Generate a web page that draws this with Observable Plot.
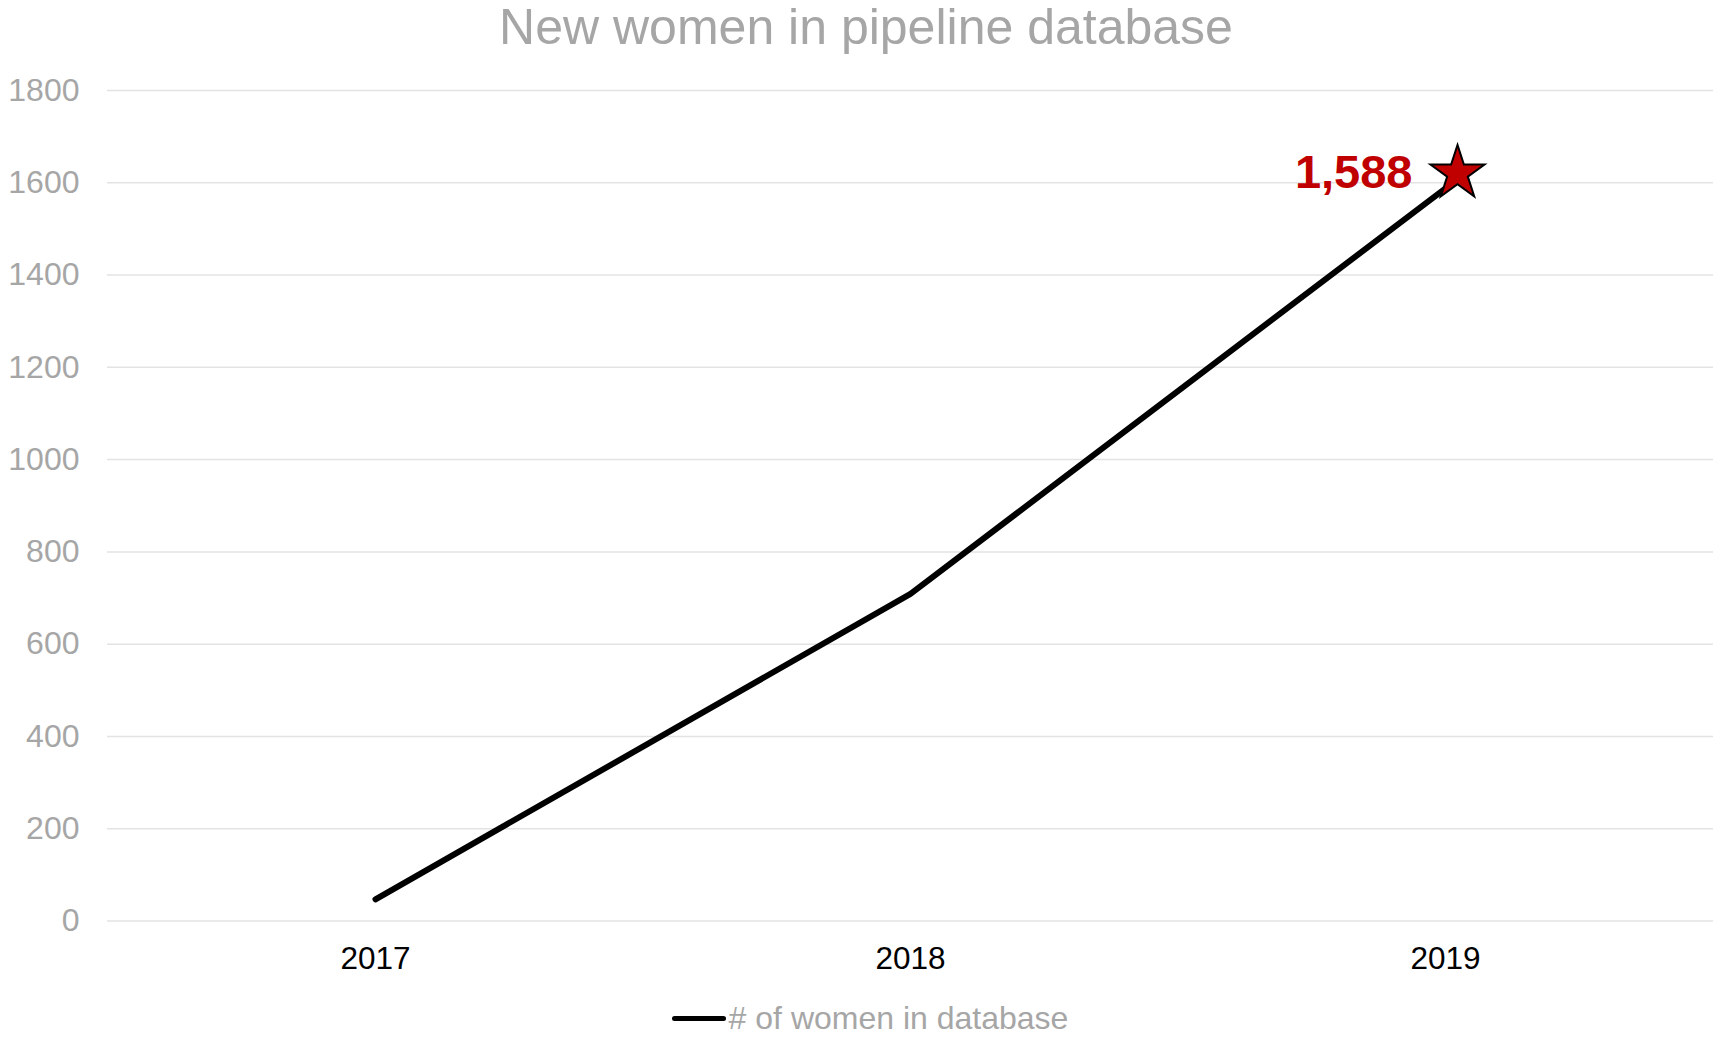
<!DOCTYPE html>
<html>
<head>
<meta charset="utf-8">
<script src="https://cdn.jsdelivr.net/npm/d3@7"></script>
<script src="https://cdn.jsdelivr.net/npm/@observablehq/plot@0.6"></script>
<style>
  html, body { margin: 0; padding: 0; background: #fff; }
  body { width: 1716px; height: 1039px; overflow: hidden; font-family: "Liberation Sans", Arial, sans-serif; }
  #title { height: 54px; line-height: 54px; font-size: 50px; color: #a6a6a6; text-align: center; padding-left: 16px; white-space: nowrap; }
  #chart svg { display: block; }
  #legend { height: 56px; display: flex; align-items: center; justify-content: center; padding-left: 24px; font-size: 32px; color: #a6a6a6; }
  #legend .swatch { display: inline-block; width: 54px; height: 5px; background: #000; border-radius: 3px; margin-right: 3px; }
</style>
</head>
<body>
<div id="title">New women in pipeline database</div>
<div id="chart"></div>
<div id="legend"><span class="swatch"></span><span># of women in database</span></div>
<script>
// Yearly count of new women added to the pipeline database
const years = ["2017", "2018", "2019"];
const women = [47, 709, 1588];
const yTicks = [0, 200, 400, 600, 800, 1000, 1200, 1400, 1600, 1800];

const rows = years.map((year, i) => ({year, women: women[i]}));
const latest = rows[rows.length - 1];

const chart = Plot.plot({
  width: 1716,
  height: 936,
  marginLeft: 107,
  marginRight: 3,
  marginTop: 36,
  marginBottom: 69.5,
  style: {fontFamily: "'Liberation Sans', Arial, sans-serif", background: "#fff"},
  x: {type: "point", domain: years, padding: 0.5, label: null},
  y: {domain: [0, 1800], label: null},
  marks: [
    Plot.gridY(yTicks, {stroke: "#e3e3e3", strokeOpacity: 1, strokeWidth: 1.5}),
    Plot.axisY(yTicks, {
      tickSize: 0, tickPadding: 28, fontSize: 32, fill: "#a6a6a6",
      tickFormat: d => String(d), label: null
    }),
    Plot.axisX({tickSize: 0, tickPadding: 26, fontSize: 31.5, fill: "#000", label: null}),
    Plot.line(rows, {
      x: "year", y: "women", stroke: "#000", strokeWidth: 6,
      strokeLinecap: "round", strokeLinejoin: "round"
    }),
    Plot.dot([latest], {
      x: "year", y: "women", symbol: "star", r: 17,
      fill: "#c00000", stroke: "#000", strokeWidth: 2, dx: 12, dy: -15
    }),
    Plot.text([latest], {
      x: "year", y: "women", text: d => d3.format(",")(d.women),
      fontSize: 47, fontWeight: "bold", fill: "#c00000",
      textAnchor: "end", dx: -33, dy: -15
    })
  ]
});

document.getElementById("chart").appendChild(chart);
</script>
</body>
</html>
